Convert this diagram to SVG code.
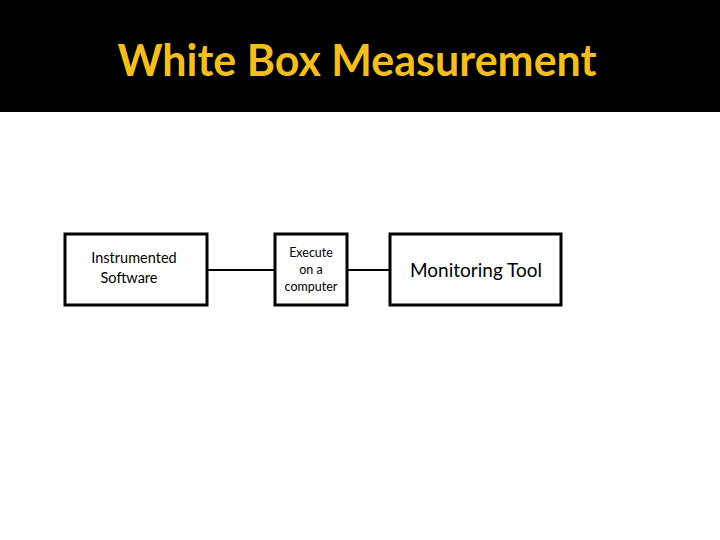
<svg xmlns="http://www.w3.org/2000/svg" width="720" height="540" viewBox="0 0 720 540">
<style>
.box{fill:#fff;stroke:#000;stroke-width:3}
.t{font-family:Lato,"Open Sans",sans-serif;fill:#000;text-anchor:middle}
.c{stroke:#000;stroke-width:2;fill:none}
</style>
<rect width="720" height="540" fill="#fff"/>
<rect width="720" height="112" fill="#000"/>
<text x="357" y="76" font-family="Lato,'Open Sans',sans-serif" font-weight="bold" font-size="43" fill="#F2BE22" text-anchor="middle">White Box Measurement</text>
<g id="connectors">
<line class="c" x1="208" y1="270" x2="274" y2="270"/>
<line class="c" x1="348" y1="270" x2="389" y2="270"/>
</g>
<g id="n1"><rect class="box" x="65" y="234" width="142" height="71"/>
<text class="t" font-size="14.5"><tspan x="134" y="263">Instrumented</tspan><tspan x="129" y="283">Software</tspan></text></g>
<g id="n2"><rect class="box" x="275" y="234" width="72" height="71"/>
<text class="t" font-size="12.5"><tspan x="311" y="257">Execute</tspan><tspan x="311" y="274">on a</tspan><tspan x="311" y="291">computer</tspan></text></g>
<g id="n3"><rect class="box" x="390" y="234" width="171" height="71"/>
<text class="t" font-size="19" x="476" y="277">Monitoring Tool</text></g>
</svg>
